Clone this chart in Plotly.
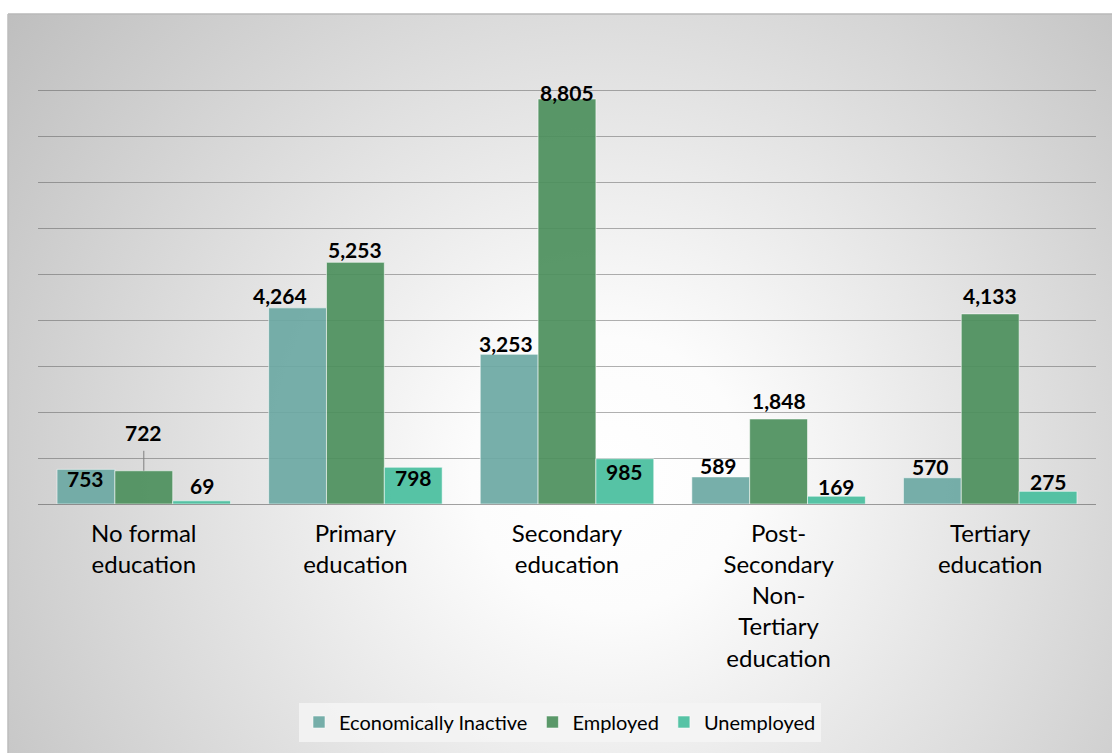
import base64
import plotly.graph_objects as go

# Education levels and labour-force status counts
categories = [
    "No formal<br>education",
    "Primary<br>education",
    "Secondary<br>education",
    "Post-<br>Secondary<br>Non-<br>Tertiary<br>education",
    "Tertiary<br>education",
]
series_names = ["Economically Inactive", "Employed", "Unemployed"]
inactive = [753, 4264, 3253, 589, 570]
employed = [722, 5253, 8805, 1848, 4133]
unemployed = [69, 798, 985, 169, 275]
values = [inactive, employed, unemployed]

# Styling
colors = ["rgba(107,168,163,0.92)", "rgba(76,143,92,0.92)", "rgba(72,190,157,0.92)"]
FONT = "Lato, 'Open Sans', sans-serif"
W, H = 1112, 753
ML, MR, MT, MB = 38, 16, 44, 249
BARGAP = 0.18

# Label placement tweaks (px): vertical offset of label centre from bar top, horizontal nudge
label_dy = [
    [-9, 12, 11, 11, 11],
    [38, 13, 6, 18, 18],
    [15, -10, -13, 10, 10],
]
label_dx = [
    [0, -18, -3, -2, -2],
    [0, 0, 0, 0, 0],
    [0, 0, 0, 0, 0],
]
leader = [[False] * 5, [True, False, False, False, False], [False] * 5]

x_pos = list(range(len(categories)))
bar_w = (1 - BARGAP) / len(series_names)

fig = go.Figure()
for s, name in enumerate(series_names):
    fig.add_trace(go.Bar(
        x=x_pos, y=values[s], name=name,
        marker=dict(color=colors[s], line=dict(color="rgba(255,255,255,0.55)", width=1)),
        hoverinfo="skip",
    ))

annotations = []
for s in range(len(series_names)):
    off = (s - 1) * bar_w
    for i, v in enumerate(values[s]):
        txt = f"{v:,}"
        if leader[s][i]:
            annotations.append(dict(
                x=x_pos[i] + off, y=v, xref="x", yref="y", text=f"<b>{txt}</b>",
                showarrow=True, arrowhead=0, arrowwidth=1, arrowcolor="#7f7f7f",
                ax=0, ay=-label_dy[s][i], startstandoff=4,
                font=dict(family=FONT, size=21, color="#000000"),
            ))
        else:
            annotations.append(dict(
                x=x_pos[i] + off, y=v, xref="x", yref="y", text=f"<b>{txt}</b>",
                showarrow=False, yanchor="middle", xanchor="center",
                yshift=label_dy[s][i], xshift=label_dx[s][i],
                font=dict(family=FONT, size=21, color="#000000"),
            ))

# Radial gradient backdrop for the chart area
pw, ph = W - ML - MR, H - MT - MB
bx0, by0 = 8, 14
bw, bh = W - bx0, H - by0
svg = (
    f'<svg xmlns="http://www.w3.org/2000/svg" width="{bw}" height="{bh}" '
    f'viewBox="0 0 {bw} {bh}" preserveAspectRatio="none"><defs>'
    f'<radialGradient id="g" gradientUnits="userSpaceOnUse" cx="600" cy="460" r="760">'
    f'<stop offset="0" stop-color="#ffffff"/><stop offset="0.18" stop-color="#fcfcfc"/>'
    f'<stop offset="1" stop-color="#bebebe"/></radialGradient></defs>'
    f'<rect width="{bw}" height="{bh}" fill="url(#g)"/></svg>'
)
src = "data:image/svg+xml;base64," + base64.b64encode(svg.encode()).decode()
img = dict(
    source=src, xref="paper", yref="paper",
    x=(bx0 - ML) / pw, y=1 + (MT - by0) / ph,
    sizex=bw / pw, sizey=bh / ph,
    xanchor="left", yanchor="top", sizing="stretch", layer="below",
)

shapes = [
    dict(type="line", xref="paper", yref="paper",
         x0=(bx0 - ML) / pw, x1=1 + MR / pw, y0=1 + (MT - by0) / ph, y1=1 + (MT - by0) / ph,
         line=dict(color="#b8b8b8", width=1.5)),
    dict(type="line", xref="paper", yref="paper",
         x0=(bx0 - ML) / pw, x1=(bx0 - ML) / pw, y0=1 + (MT - by0) / ph, y1=-MB / ph,
         line=dict(color="#bdbdbd", width=1.5)),
]

fig.update_layout(
    width=W, height=H,
    margin=dict(l=ML, r=MR, t=MT, b=MB),
    paper_bgcolor="#ffffff", plot_bgcolor="rgba(0,0,0,0)",
    barmode="group", bargap=BARGAP, bargroupgap=0,
    images=[img], shapes=shapes, annotations=annotations,
    font=dict(family=FONT, color="#000000"),
    showlegend=True,
    legend=dict(
        orientation="h", x=(560 - ML) / pw, xanchor="center",
        y=(H - MB - 722) / ph, yanchor="middle",
        bgcolor="rgba(244,244,244,0.85)", borderwidth=0,
        font=dict(family=FONT, size=20, color="#000000"),
        itemwidth=30, tracegroupgap=0,
    ),
    xaxis=dict(
        tickmode="array", tickvals=x_pos, ticktext=categories,
        range=[-0.5, len(categories) - 0.5],
        showgrid=False, zeroline=False, showline=False,
        ticks="outside", ticklen=8, tickcolor="rgba(0,0,0,0)",
        tickfont=dict(family=FONT, size=24, color="#000000"),
        fixedrange=True,
    ),
    yaxis=dict(
        range=[0, 10000], dtick=1000, showticklabels=False,
        showgrid=True, gridcolor="rgba(70,70,70,0.42)", gridwidth=1,
        zeroline=True, zerolinecolor="rgba(70,70,70,0.5)", zerolinewidth=1,
        fixedrange=True,
    ),
)

fig.write_html("out.html")
